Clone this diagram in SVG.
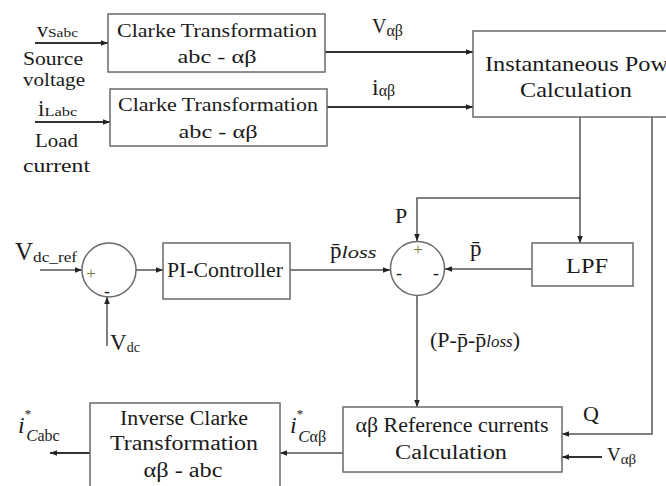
<svg xmlns="http://www.w3.org/2000/svg" width="666" height="486" viewBox="0 0 666 486" font-family="'Liberation Serif', 'Times New Roman', serif">
<defs>
<style>
text{font-family:'Liberation Serif','Times New Roman',serif;fill:#1a1a1a}
.box{fill:#fff;stroke:#6a6a6a;stroke-width:1.5}
.ln{fill:none;stroke:#555;stroke-width:1.5}
.in{fill:none;stroke:#333;stroke-width:1.8}
.sum{fill:#fff;stroke:#6a6a6a;stroke-width:1.5}
.c{text-anchor:middle}
.it{font-style:italic}
.plus{fill:#77773a}
.minus{fill:#222}
</style>
<marker id="ah" viewBox="0 0 8 8" refX="8" refY="4" markerWidth="7" markerHeight="7" markerUnits="userSpaceOnUse" orient="auto">
<path d="M0,0.8 L8,4 L0,7.2 z" fill="#222"/>
</marker>
</defs>
<rect width="666" height="486" fill="#fff"/>

<g id="connectors">
<line class="in" x1="35" y1="43" x2="108" y2="43" marker-end="url(#ah)"/>
<line class="in" x1="35" y1="122" x2="110" y2="122" marker-end="url(#ah)"/>
<line class="in" x1="325" y1="52" x2="473" y2="52" marker-end="url(#ah)"/>
<line class="in" x1="327" y1="107" x2="473" y2="107" marker-end="url(#ah)"/>
<polyline class="ln" points="580,117 580,198 417,198 417,241" marker-end="url(#ah)"/>
<line class="ln" x1="580" y1="198" x2="580" y2="243" marker-end="url(#ah)"/>
<polyline class="ln" points="652,117 652,434 562,434" marker-end="url(#ah)"/>
<line class="ln" x1="532" y1="269" x2="445" y2="269" marker-end="url(#ah)"/>
<line class="ln" x1="40" y1="270" x2="82" y2="270" marker-end="url(#ah)"/>
<line class="ln" x1="107" y1="346" x2="107" y2="297" marker-end="url(#ah)"/>
<line class="ln" x1="136" y1="270" x2="163" y2="270" marker-end="url(#ah)"/>
<line class="ln" x1="290" y1="270" x2="390" y2="270" marker-end="url(#ah)"/>
<line class="ln" x1="417" y1="296" x2="417" y2="407" marker-end="url(#ah)"/>
<line class="in" x1="602" y1="457" x2="562" y2="457" marker-end="url(#ah)"/>
<line class="ln" x1="343" y1="453" x2="280" y2="453" marker-end="url(#ah)"/>
<line class="in" x1="90" y1="453" x2="50" y2="453" marker-end="url(#ah)"/>
</g>

<g id="labels">
<text x="37" y="37"><tspan font-size="22">v</tspan><tspan font-size="13" textLength="30" lengthAdjust="spacingAndGlyphs">Sabc</tspan></text>
<text x="23" y="65" font-size="19" textLength="60" lengthAdjust="spacingAndGlyphs">Source</text>
<text x="23" y="86" font-size="19" textLength="62" lengthAdjust="spacingAndGlyphs">voltage</text>
<text x="38" y="116"><tspan font-size="23">i</tspan><tspan font-size="13" textLength="33" lengthAdjust="spacingAndGlyphs">Labc</tspan></text>
<text x="35" y="147" font-size="19" textLength="43" lengthAdjust="spacingAndGlyphs">Load</text>
<text x="23" y="172" font-size="19" textLength="67" lengthAdjust="spacingAndGlyphs">current</text>

<text x="372" y="33"><tspan font-size="20">V</tspan><tspan font-size="16" dy="3">αβ</tspan></text>
<text x="372" y="95"><tspan font-size="24">i</tspan><tspan font-size="16" dy="1">αβ</tspan></text>

<text x="15" y="260"><tspan font-size="25">V</tspan><tspan font-size="15" dy="2" textLength="44" lengthAdjust="spacingAndGlyphs">dc_ref</tspan></text>
<text x="110" y="350"><tspan font-size="23">V</tspan><tspan font-size="14" dy="2">dc</tspan></text>

<text x="330" y="258"><tspan font-size="23">p̄</tspan><tspan class="it" font-size="17" textLength="35" lengthAdjust="spacingAndGlyphs">loss</tspan></text>
<text x="395" y="223" font-size="22">P</text>
<text x="470" y="256" font-size="23">p̄</text>
<text x="430" y="347" font-size="22"><tspan>(P-p̄-p̄</tspan><tspan class="it" font-size="17">loss</tspan><tspan>)</tspan></text>
<text x="583" y="421" font-size="22">Q</text>
<text x="607" y="461"><tspan font-size="19">V</tspan><tspan font-size="15" dy="3">αβ</tspan></text>

<text x="290" y="433"><tspan class="it" font-size="24">i</tspan><tspan font-size="13" dy="-15">*</tspan><tspan class="it" font-size="17" dx="-5" dy="24">C</tspan><tspan font-size="16">αβ</tspan></text>
<text x="18" y="433"><tspan class="it" font-size="24">i</tspan><tspan font-size="13" dy="-15">*</tspan><tspan class="it" font-size="17" dx="-5" dy="23">C</tspan><tspan font-size="16">abc</tspan></text>
</g>

<g id="clarke1">
<rect class="box" x="108" y="14" width="217" height="58"/>
<text class="c" x="217" y="37" font-size="19" textLength="200" lengthAdjust="spacingAndGlyphs">Clarke Transformation</text>
<text class="c" x="217" y="63" font-size="19" textLength="79" lengthAdjust="spacingAndGlyphs">abc - αβ</text>
</g>

<g id="clarke2">
<rect class="box" x="110" y="89" width="217" height="57"/>
<text class="c" x="218" y="111" font-size="19" textLength="200" lengthAdjust="spacingAndGlyphs">Clarke Transformation</text>
<text class="c" x="218" y="138" font-size="19" textLength="79" lengthAdjust="spacingAndGlyphs">abc - αβ</text>
</g>

<g id="power">
<rect class="box" x="473" y="31" width="220" height="86"/>
<text x="485" y="71" font-size="21" textLength="202" lengthAdjust="spacingAndGlyphs">Instantaneous Power</text>
<text class="c" x="576" y="97" font-size="21" textLength="112" lengthAdjust="spacingAndGlyphs">Calculation</text>
</g>

<g id="sum1">
<circle class="sum" cx="109" cy="270" r="27"/>
<text class="plus c" x="91" y="279" font-size="17">+</text>
<text class="minus c" x="107" y="297" font-size="18">-</text>
</g>

<g id="pi">
<rect class="box" x="163" y="243" width="127" height="56"/>
<text class="c" x="225" y="277" font-size="22" textLength="116" lengthAdjust="spacingAndGlyphs">PI-Controller</text>
</g>

<g id="sum2">
<circle class="sum" cx="417.5" cy="268.5" r="27"/>
<text class="plus c" x="418" y="255" font-size="17">+</text>
<text class="minus c" x="399" y="279" font-size="18">-</text>
<text class="minus c" x="436" y="279" font-size="18">-</text>
</g>

<g id="lpf">
<rect class="box" x="532" y="243" width="101" height="43"/>
<text class="c" x="587" y="273" font-size="22" textLength="42" lengthAdjust="spacingAndGlyphs">LPF</text>
</g>

<g id="refcalc">
<rect class="box" x="343" y="407" width="219" height="65"/>
<text class="c" x="452" y="432" font-size="20" textLength="193" lengthAdjust="spacingAndGlyphs">αβ Reference currents</text>
<text class="c" x="451" y="459" font-size="20" textLength="112" lengthAdjust="spacingAndGlyphs">Calculation</text>
</g>

<g id="invclarke">
<rect class="box" x="90" y="403" width="190" height="100"/>
<text class="c" x="184" y="425" font-size="20" textLength="128" lengthAdjust="spacingAndGlyphs">Inverse Clarke</text>
<text class="c" x="184" y="450" font-size="20" textLength="148" lengthAdjust="spacingAndGlyphs">Transformation</text>
<text class="c" x="183" y="477" font-size="20" textLength="79" lengthAdjust="spacingAndGlyphs">αβ - abc</text>
</g>
</svg>
